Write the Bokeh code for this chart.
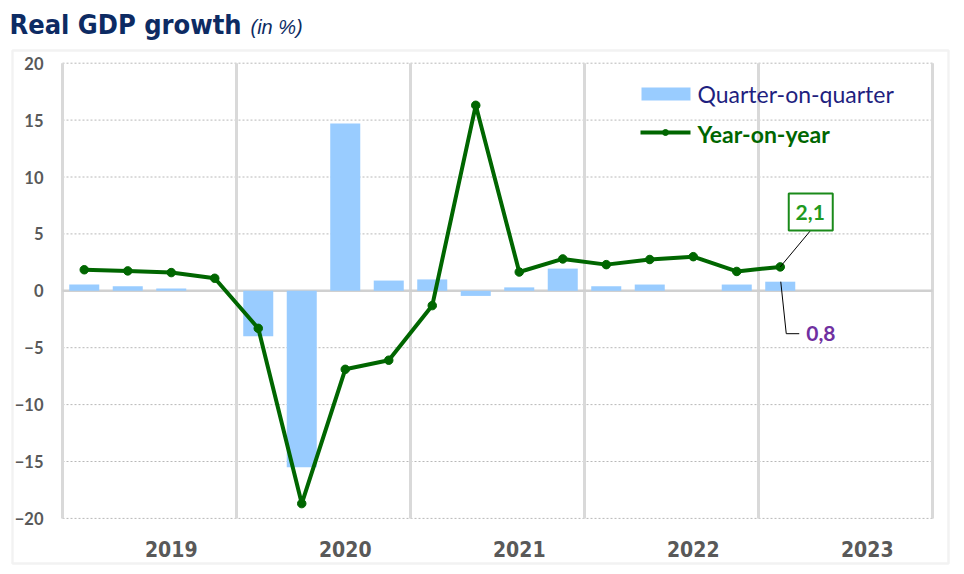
from bokeh.plotting import figure
from bokeh.models import Range1d, FixedTicker, Label, BoxAnnotation, ColumnDataSource
from bokeh.embed import file_html
from bokeh.resources import INLINE

# ---------------- data ----------------
quarters = ["2019Q1", "2019Q2", "2019Q3", "2019Q4",
            "2020Q1", "2020Q2", "2020Q3", "2020Q4",
            "2021Q1", "2021Q2", "2021Q3", "2021Q4",
            "2022Q1", "2022Q2", "2022Q3", "2022Q4",
            "2023Q1"]
qoq = [0.55, 0.4, 0.2, 0.0,
       -4.0, -15.5, 14.7, 0.9,
       1.0, -0.45, 0.3, 1.95,
       0.4, 0.55, 0.0, 0.55,
       0.8]
yoy = [1.85, 1.75, 1.6, 1.1,
       -3.3, -18.7, -6.9, -6.1,
       -1.3, 16.3, 1.65, 2.8,
       2.3, 2.75, 3.0, 1.7,
       2.1]
years = ["2019", "2020", "2021", "2022", "2023"]
y_ticks = [-20, -15, -10, -5, 0, 5, 10, 15, 20]

label_last_yoy = "2,1"
label_last_qoq = "0,8"

# ---------------- layout helpers (page px -> data) ----------------
W, H = 964, 574
X0_PX, PX_Q = 62.0, 43.5     # page px of x=0, px per quarter
Y0_PX, PX_U = 290.3, 11.38   # page px of y=0, px per unit
def fx(px):
    return (px - X0_PX) / PX_Q
def fy(py):
    return (Y0_PX - py) / PX_U

NARROW = "Liberation Sans Narrow, DejaVu Sans Condensed, sans-serif"
N_Q = 4 * len(years)
Y_MIN, Y_MAX = y_ticks[0], y_ticks[-1]

xpos = [i + 0.5 for i in range(len(quarters))]
src = ColumnDataSource(dict(x=xpos, q=quarters, qoq=qoq, yoy=yoy))

# the frame covers the whole canvas; the axes are pinned inside it
p = figure(width=W, height=H,
           x_range=Range1d(fx(0), fx(W)), y_range=Range1d(fy(H), fy(0)),
           output_backend="svg", toolbar_location=None,
           min_border=0)
p.outline_line_color = None
p.background_fill_color = "white"
p.border_fill_color = "white"
p.grid.visible = False

# axes
p.yaxis.fixed_location = 0
p.yaxis.ticker = FixedTicker(ticks=y_ticks)
p.yaxis.axis_line_color = None
p.yaxis.major_tick_line_color = None
p.yaxis.minor_tick_line_color = None
p.yaxis.major_label_standoff = 13
p.yaxis.major_label_text_font = "Lato"
p.yaxis.major_label_text_font_style = "bold"
p.yaxis.major_label_text_font_size = "16.5px"
p.yaxis.major_label_text_color = "#595959"

year_ticks = [4 * i + 2.5 for i in range(len(years))]
p.xaxis.fixed_location = Y_MIN
p.xaxis.ticker = FixedTicker(ticks=year_ticks)
p.xaxis.major_label_overrides = {t: y for t, y in zip(year_ticks, years)}
p.xaxis.axis_line_color = None
p.xaxis.major_tick_line_color = None
p.xaxis.minor_tick_line_color = None
p.xaxis.major_label_standoff = 17
p.xaxis.major_label_text_font = NARROW
p.xaxis.major_label_text_font_style = "bold"
p.xaxis.major_label_text_font_size = "21px"
p.xaxis.major_label_text_color = "#595959"

# outer border
p.add_layout(BoxAnnotation(left=fx(12), right=fx(948), top=fy(50), bottom=fy(563),
                           fill_color=None, line_color="#d4d4d4",
                           line_width=2.5, level="underlay"))

# grid lines limited to the plot area
hy = [t for t in y_ticks if t != 0]
p.segment(x0=[0] * len(hy), x1=[N_Q] * len(hy), y0=hy, y1=hy,
          line_color="#b8b8b8", line_width=1, line_dash="2 2")
sep = [4 * i for i in range(len(years) + 1)]
p.segment(x0=sep, x1=sep, y0=[Y_MIN] * len(sep), y1=[Y_MAX] * len(sep),
          line_color="#d9d9d9", line_width=3)
p.segment(x0=[0], x1=[N_Q], y0=[0], y1=[0], line_color="#d0d0d0",
          line_width=2.5)

# bars and line
p.vbar(x="x", top="qoq", bottom=0, width=0.69, source=src,
       fill_color="#99ccff", line_color=None)
p.line(x="x", y="yoy", source=src, line_color="#006600", line_width=4)
p.scatter(x="x", y="yoy", source=src, size=8.5, fill_color="#006600",
          line_color="#006600")

# annotations for last values
lx = xpos[-1]
ly = yoy[-1]
lq = qoq[-1]
p.line(x=[lx, lx + 30 / PX_Q], y=[ly, ly + 36 / PX_U],
       line_color="black", line_width=1)
p.rect(x=[lx + 30.5 / PX_Q], y=[ly + 55 / PX_U], width=44, height=37,
       width_units="screen", height_units="screen",
       fill_color="white", line_color="#1a8a1a", line_width=2)
p.add_layout(Label(x=lx + 30 / PX_Q, y=ly + 54 / PX_U, text=label_last_yoy,
                   text_align="center", text_baseline="middle",
                   text_font="Lato", text_font_style="bold",
                   text_font_size="21px", text_color="#1f9a1f"))
p.line(x=[lx + 0.5 / PX_Q, lx + 6 / PX_Q, lx + 19 / PX_Q],
       y=[lq, lq - 52 / PX_U, lq - 52 / PX_U],
       line_color="black", line_width=1)
p.add_layout(Label(x=lx + 26 / PX_Q, y=lq - 52 / PX_U, text=label_last_qoq,
                   text_align="left", text_baseline="middle",
                   text_font="Lato", text_font_style="bold",
                   text_font_size="21px", text_color="#7030a0"))

# legend (manual, to keep per-item colours)
p.quad(left=fx(641), right=fx(690), top=fy(87), bottom=fy(100),
       fill_color="#99ccff", line_color=None)
p.add_layout(Label(x=fx(697), y=fy(93), text="Quarter-on-quarter",
                   text_align="left", text_baseline="middle",
                   text_font="Lato", text_font_size="23px",
                   text_color="#1f1f7f"))
p.line(x=[fx(640), fx(690)], y=[fy(132), fy(132)],
       line_color="#006600", line_width=4)
p.scatter(x=[fx(665)], y=[fy(132)], size=6, fill_color="#006600",
          line_color="#006600")
p.add_layout(Label(x=fx(697), y=fy(133), text="Year-on-year",
                   text_align="left", text_baseline="middle",
                   text_font="Lato", text_font_style="bold",
                   text_font_size="23px", text_color="#006600"))

# title
p.add_layout(Label(x=fx(9), y=fy(23.5), text="Real GDP growth",
                   text_align="left", text_baseline="middle",
                   text_font=NARROW, text_font_style="bold",
                   text_font_size="27px", text_color="#0d2b63"))
p.add_layout(Label(x=fx(250), y=fy(26), text="(in %)",
                   text_align="left", text_baseline="middle",
                   text_font="Liberation Sans, Arial, sans-serif",
                   text_font_style="italic", text_font_size="20px",
                   text_color="#0d2b63"))

open("out.html", "w").write(file_html(p, INLINE))
